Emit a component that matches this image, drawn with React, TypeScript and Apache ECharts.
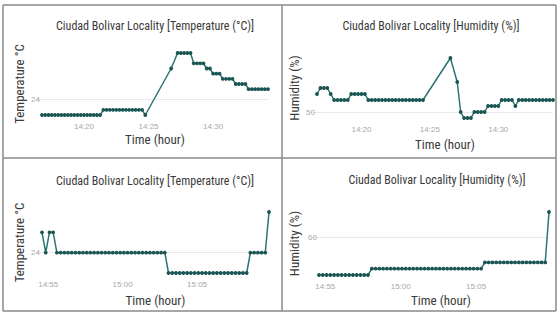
import React, { useEffect, useRef } from "react";
import * as echarts from "echarts";

// ---------- data ----------
const titleTemp = "Ciudad Bolivar Locality [Temperature (°C)]";
const titleHum = "Ciudad Bolivar Locality [Humidity (%)]";
const yNameTemp = "Temperature °C";
const yNameHum = "Humidity (%)";
const xName = "Time (hour)";

// Panel 1: temperature, first session
const times1 = [
  "14:16:45", "14:17:00", "14:17:15", "14:17:30", "14:17:45", "14:18:00", "14:18:15", "14:18:30",
  "14:18:45", "14:19:00", "14:19:15", "14:19:30", "14:19:45", "14:20:00", "14:20:15", "14:20:30",
  "14:20:45", "14:21:00", "14:21:15",
  "14:21:30", "14:21:45", "14:22:00", "14:22:15", "14:22:30", "14:22:45", "14:23:00", "14:23:15",
  "14:23:30", "14:23:45", "14:24:00", "14:24:15", "14:24:30",
  "14:24:45", "14:26:45",
  "14:27:15", "14:27:30", "14:27:45", "14:28:00", "14:28:15",
  "14:28:30", "14:28:45", "14:29:00", "14:29:15",
  "14:29:30", "14:29:45",
  "14:30:00", "14:30:15", "14:30:30",
  "14:30:45", "14:31:00", "14:31:15", "14:31:30",
  "14:31:45", "14:32:00", "14:32:15", "14:32:30",
  "14:32:45", "14:33:00", "14:33:15", "14:33:30", "14:33:45", "14:34:00", "14:34:15",
];
const temp1 = [
  23.7, 23.7, 23.7, 23.7, 23.7, 23.7, 23.7, 23.7,
  23.7, 23.7, 23.7, 23.7, 23.7, 23.7, 23.7, 23.7,
  23.7, 23.7, 23.7,
  23.8, 23.8, 23.8, 23.8, 23.8, 23.8, 23.8, 23.8,
  23.8, 23.8, 23.8, 23.8, 23.8,
  23.7, 24.6,
  24.9, 24.9, 24.9, 24.9, 24.9,
  24.7, 24.7, 24.7, 24.7,
  24.6, 24.6,
  24.5, 24.5, 24.5,
  24.4, 24.4, 24.4, 24.4,
  24.3, 24.3, 24.3, 24.3,
  24.2, 24.2, 24.2, 24.2, 24.2, 24.2, 24.2,
];

// Panel 2: humidity, first session
const times2 = [
  "14:16:45", "14:17:00", "14:17:15", "14:17:30", "14:17:45",
  "14:18:00", "14:18:15", "14:18:30", "14:18:45", "14:19:00",
  "14:19:15", "14:19:30", "14:19:45", "14:20:00", "14:20:15",
  "14:20:30", "14:20:45", "14:21:00", "14:21:15", "14:21:30", "14:21:45", "14:22:00", "14:22:15",
  "14:22:30", "14:22:45", "14:23:00", "14:23:15", "14:23:30", "14:23:45", "14:24:00", "14:24:15",
  "14:24:30",
  "14:26:30", "14:27:00", "14:27:15",
  "14:27:30", "14:27:45", "14:28:00",
  "14:28:15", "14:28:30", "14:28:45", "14:29:00",
  "14:29:15", "14:29:30", "14:29:45", "14:30:00",
  "14:30:15", "14:30:30", "14:30:45", "14:31:00",
  "14:31:15",
  "14:31:30", "14:31:45", "14:32:00", "14:32:15", "14:32:30", "14:32:45", "14:33:00", "14:33:15",
  "14:33:30", "14:33:45", "14:34:00",
];
const hum2 = [
  53, 54, 54, 54, 53,
  52, 52, 52, 52, 52,
  53, 53, 53, 53, 53,
  52, 52, 52, 52, 52, 52, 52, 52,
  52, 52, 52, 52, 52, 52, 52, 52,
  52,
  59, 55, 50,
  49, 49, 49,
  50, 50, 50, 50,
  51, 51, 51, 51,
  52, 52, 52, 52,
  51,
  52, 52, 52, 52, 52, 52, 52, 52,
  52, 52, 52,
];

// Panels 3 and 4: second session
const times34 = [
  "14:54:35", "14:54:50", "14:55:05", "14:55:20", "14:55:35", "14:55:50",
  "14:56:05", "14:56:20", "14:56:35", "14:56:50", "14:57:05", "14:57:20", "14:57:35", "14:57:50",
  "14:58:05", "14:58:20", "14:58:35", "14:58:50", "14:59:05", "14:59:20", "14:59:35", "14:59:50",
  "15:00:05", "15:00:20", "15:00:35", "15:00:50", "15:01:05", "15:01:20", "15:01:35", "15:01:50",
  "15:02:05", "15:02:20", "15:02:35", "15:02:50", "15:03:05", "15:03:20", "15:03:35", "15:03:50",
  "15:04:05", "15:04:20", "15:04:35", "15:04:50", "15:05:05", "15:05:20", "15:05:35", "15:05:50",
  "15:06:05", "15:06:20", "15:06:35", "15:06:50", "15:07:05", "15:07:20", "15:07:35", "15:07:50",
  "15:08:05", "15:08:20", "15:08:35", "15:08:50", "15:09:05", "15:09:20", "15:09:35", "15:09:50",
];
const temp3 = [
  24.5, 24, 24.5, 24.5, 24, 24,
  24, 24, 24, 24, 24, 24, 24, 24,
  24, 24, 24, 24, 24, 24, 24, 24,
  24, 24, 24, 24, 24, 24, 24, 24,
  24, 24, 24, 24, 23.5, 23.5, 23.5, 23.5,
  23.5, 23.5, 23.5, 23.5, 23.5, 23.5, 23.5, 23.5,
  23.5, 23.5, 23.5, 23.5, 23.5, 23.5, 23.5, 23.5,
  23.5, 23.5, 24, 24, 24, 24, 24, 25,
];
const hum4 = [
  54, 54, 54, 54, 54, 54,
  54, 54, 54, 54, 54, 54, 54, 54,
  55, 55, 55, 55, 55, 55, 55, 55,
  55, 55, 55, 55, 55, 55, 55, 55,
  55, 55, 55, 55, 55, 55, 55, 55,
  55, 55, 55, 55, 55, 55, 56, 56,
  56, 56, 56, 56, 56, 56, 56, 56,
  56, 56, 56, 56, 56, 56, 56, 64,
];

const xTicks12 = ["14:20", "14:25", "14:30"];
const xTicks34 = ["14:55", "15:00", "15:05"];
const yTicks1 = [24];
const yTicks2 = [50];
const yTicks3 = [24];
const yTicks4 = [60];

// ---------- helpers ----------
const toMin = (s: string) => {
  const p = s.split(":").map(Number);
  return p[0] * 60 + p[1] + (p[2] || 0) / 60;
};
const fmt = (v: number) => {
  const h = Math.floor(v / 60 + 1e-6);
  const m = Math.round(v - h * 60);
  return `${h}:${m < 10 ? "0" + m : m}`;
};
const pairs = (t: string[], v: number[]) => t.map((s, i) => [toMin(s), v[i]]);

const NARROW = "'Liberation Sans Narrow', 'Roboto Condensed', 'DejaVu Sans Condensed', 'Liberation Sans', sans-serif";
const LINE = "#2b7471";
const DOT = "#1a5654";
const GRIDC = "#e9e9e9";
const LABELC = "#a8a8a8";
const TEXTC = "#3a3a3a";

const panels = [
  { grid: { left: 42, top: 53, width: 226, height: 62 }, data: pairs(times1, temp1), xt: xTicks12, yt: yTicks1, title: titleTemp, yName: yNameTemp, tx: 155, ty: 20, xGap: 18, yGap: 16, xPad: 0 },
  { grid: { left: 317, top: 58, width: 236, height: 60 }, data: pairs(times2, hum2), xt: xTicks12, yt: yTicks2, title: titleHum, yName: yNameHum, tx: 431, ty: 20, xGap: 20, yGap: 16, xPad: 20 },
  { grid: { left: 42, top: 212, width: 227, height: 61 }, data: pairs(times34, temp3), xt: xTicks34, yt: yTicks3, title: titleTemp, yName: yNameTemp, tx: 155, ty: 175, xGap: 21, yGap: 16, xPad: 0 },
  { grid: { left: 319, top: 212, width: 230, height: 63 }, data: pairs(times34, hum4), xt: xTicks34, yt: yTicks4, title: titleHum, yName: yNameHum, tx: 437, ty: 174, xGap: 19, yGap: 18, xPad: 14 },
];

export default function App() {
  const ref = useRef<HTMLDivElement>(null);
  useEffect(() => {
    if (!ref.current) return;
    const chart = echarts.init(ref.current, undefined, { renderer: "svg" });
    const option: any = {
      animation: false,
      backgroundColor: "#ffffff",
      title: panels.map((p) => ({
        text: p.title,
        left: p.tx,
        top: p.ty,
        textAlign: "center",
        padding: 0,
        textStyle: { fontFamily: NARROW, fontSize: 12, fontWeight: "normal", color: TEXTC },
      })),
      grid: panels.map((p) => ({ ...p.grid, containLabel: false, outerBoundsMode: "none" })),
      xAxis: panels.map((p, i) => ({
        type: "value",
        gridIndex: i,
        min: "dataMin",
        max: "dataMax",
        axisLine: { show: false },
        axisTick: { show: false },
        splitLine: { show: false },
        axisLabel: {
          customValues: p.xt.map(toMin),
          formatter: (v: number) => fmt(v),
          color: LABELC,
          fontSize: 8,
          margin: 7,
          fontFamily: "'Liberation Sans', sans-serif",
        },
        name: xName,
        nameLocation: "middle",
        nameGap: p.xGap,
        nameTextStyle: { fontFamily: NARROW, fontSize: 13, color: TEXTC, padding: [0, 0, 0, p.xPad] },
      })),
      yAxis: panels.map((p, i) => ({
        type: "value",
        gridIndex: i,
        min: "dataMin",
        max: "dataMax",
        axisLine: { show: false },
        axisTick: { show: true, customValues: p.yt, length: 6, lineStyle: { color: GRIDC } },
        splitLine: { show: false },
        axisLabel: {
          customValues: p.yt,
          color: LABELC,
          fontSize: 8,
          margin: 2,
          fontFamily: "'Liberation Sans', sans-serif",
        },
        name: p.yName,
        nameLocation: "middle",
        nameGap: p.yGap,
        nameTextStyle: { fontFamily: NARROW, fontSize: 13, color: TEXTC },
      })),
      series: panels.map((p, i) => ({
        type: "line",
        xAxisIndex: i,
        yAxisIndex: i,
        data: p.data,
        symbol: "circle",
        symbolSize: 3.8,
        showSymbol: true,
        showAllSymbol: true,
        itemStyle: { color: DOT },
        lineStyle: { color: LINE, width: 1.5 },
        markLine: {
          silent: true,
          z: 1,
          symbol: "none",
          label: { show: false },
          lineStyle: { color: GRIDC, type: "solid", width: 1 },
          data: [{ yAxis: p.yt[0] }],
        },
      })),
      graphic: [
        { type: "line", shape: { x1: 3, y1: 5, x2: 556, y2: 5 }, style: { stroke: "#8a8a8a", lineWidth: 1.5 } },
        { type: "line", shape: { x1: 3, y1: 158, x2: 556, y2: 158 }, style: { stroke: "#8a8a8a", lineWidth: 1.5 } },
        { type: "line", shape: { x1: 3, y1: 311, x2: 556, y2: 311 }, style: { stroke: "#8a8a8a", lineWidth: 1.5 } },
        { type: "line", shape: { x1: 3, y1: 5, x2: 3, y2: 311 }, style: { stroke: "#8a8a8a", lineWidth: 1.5 } },
        { type: "line", shape: { x1: 282, y1: 5, x2: 282, y2: 311 }, style: { stroke: "#8a8a8a", lineWidth: 1.5 } },
        { type: "line", shape: { x1: 556, y1: 5, x2: 556, y2: 311 }, style: { stroke: "#8a8a8a", lineWidth: 1.5 } },
      ],
    };
    chart.setOption(option);
    return () => chart.dispose();
  }, []);
  return (
    <div
      ref={ref}
      style={{ position: "fixed", left: 0, top: 0, width: 558, height: 316, background: "#fff" }}
    />
  );
}
